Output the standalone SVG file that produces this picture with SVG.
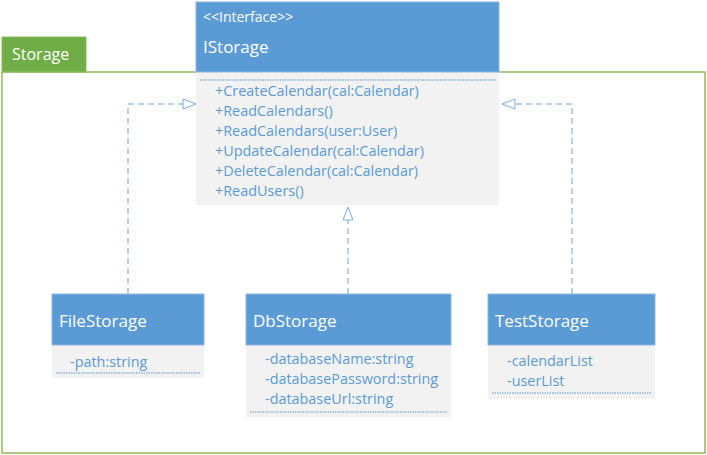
<svg xmlns="http://www.w3.org/2000/svg" width="707" height="455" viewBox="0 0 707 455">
<style>
.hdr{fill:#5b9bd5;stroke:#8db8e2;stroke-width:1}
.body{fill:#f2f2f2}
.title{font-family:"Open Sans","Noto Sans",sans-serif;font-size:17px;fill:#ffffff}
.st{font-family:"Open Sans","Noto Sans",sans-serif;font-size:14px;fill:#ffffff}
.mem{font-family:"Open Sans","Noto Sans",sans-serif;font-size:14.4px;fill:#5b9bd5}
.sep{stroke:#5b9bd5;stroke-width:1;stroke-dasharray:1.5 1;fill:none}
.dep{stroke:#9dc3e6;stroke-width:1.5;stroke-dasharray:6 4;fill:none}
.tri{fill:#ffffff;stroke:#7aaedc;stroke-width:1}
</style>
<g id="Storage">
<rect x="2" y="72" width="703" height="381" fill="none" stroke="#8fbc5a" stroke-width="1.5"/>
<rect x="2" y="37" width="84" height="35" fill="#70ad47" stroke="#8fbc5a" stroke-width="1"/>
<text x="12" y="60" font-family="'Open Sans','Noto Sans',sans-serif" font-size="16" fill="#ffffff">Storage</text>
</g>
<g id="connectors">
<path class="dep" d="M128,294 V104 H184"/>
<polygon class="tri" points="196,104 183,99 183,109"/>
<path class="dep" d="M572,294 V104 H516"/>
<polygon class="tri" points="502,104 515,99 515,109"/>
<path class="dep" d="M348,294 V220"/>
<polygon class="tri" points="348,207 343,220 353,220"/>
</g>
<g id="IStorage">
<rect class="body" x="196" y="72" width="303" height="133"/>
<rect class="hdr" x="196" y="2" width="303" height="70"/>
<text class="st" x="203" y="22">&lt;&lt;Interface&gt;&gt;</text>
<text class="title" x="203" y="53">IStorage</text>
<line class="sep" x1="200" y1="80" x2="496" y2="80"/>
<text class="mem" x="215" y="96">+CreateCalendar(cal:Calendar)</text>
<text class="mem" x="215" y="116">+ReadCalendars()</text>
<text class="mem" x="215" y="136">+ReadCalendars(user:User)</text>
<text class="mem" x="215" y="156">+UpdateCalendar(cal:Calendar)</text>
<text class="mem" x="215" y="176">+DeleteCalendar(cal:Calendar)</text>
<text class="mem" x="215" y="196">+ReadUsers()</text>
</g>
<g id="FileStorage">
<rect class="body" x="52" y="345" width="152" height="33"/>
<rect class="hdr" x="52" y="294" width="152" height="51"/>
<text class="title" x="59" y="327">FileStorage</text>
<text class="mem" x="70" y="367">-path:string</text>
<line class="sep" x1="56" y1="373" x2="200" y2="373"/>
</g>
<g id="DbStorage">
<rect class="body" x="246" y="345" width="205" height="72"/>
<rect class="hdr" x="246" y="294" width="205" height="51"/>
<text class="title" x="253" y="327">DbStorage</text>
<text class="mem" x="265" y="364">-databaseName:string</text>
<text class="mem" x="265" y="384">-databasePassword:string</text>
<text class="mem" x="265" y="404">-databaseUrl:string</text>
<line class="sep" x1="250" y1="412" x2="447" y2="412"/>
</g>
<g id="TestStorage">
<rect class="body" x="488" y="345" width="167" height="54"/>
<rect class="hdr" x="488" y="294" width="167" height="51"/>
<text class="title" x="495" y="327">TestStorage</text>
<text class="mem" x="507" y="366">-calendarList</text>
<text class="mem" x="507" y="386">-userList</text>
<line class="sep" x1="492" y1="393" x2="651" y2="393"/>
</g>
</svg>
